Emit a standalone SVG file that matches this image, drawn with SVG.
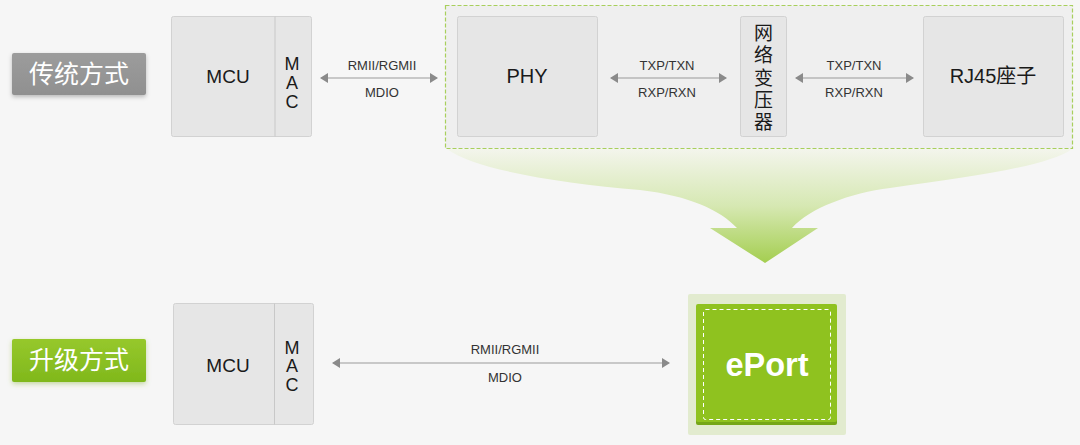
<svg xmlns="http://www.w3.org/2000/svg" width="1080" height="445" viewBox="0 0 1080 445">
<defs>
<style>
.box{fill:#e6e6e6;stroke:#d2d2d2;stroke-width:1}
.t{font-family:"Liberation Sans",Arial,sans-serif;fill:#1a1a1a;text-anchor:middle}
.cjk{font-family:"Liberation Sans","Noto Sans CJK SC",sans-serif;fill:#1a1a1a;text-anchor:middle}
.lbl{font-family:"Liberation Sans",Arial,sans-serif;font-size:13px;fill:#333;text-anchor:middle}
.conn{stroke:#9a9a9a;stroke-width:1.2;fill:none;marker-start:url(#ah);marker-end:url(#ah)}
.tag{font-family:"Noto Sans CJK SC",sans-serif;font-size:25px;fill:#fff;text-anchor:middle}
</style>
<marker id="ah" viewBox="0 0 8 10" refX="7" refY="5" markerWidth="8" markerHeight="10" markerUnits="userSpaceOnUse" orient="auto-start-reverse">
<path d="M0,0 L8,5 L0,10 Z" fill="#8a8a8a"/>
</marker>
<linearGradient id="bigArrow" x1="0" y1="149" x2="0" y2="263" gradientUnits="userSpaceOnUse">
<stop offset="0" stop-color="#f3f5ec"/>
<stop offset="0.5" stop-color="#d6e8b2"/>
<stop offset="1" stop-color="#a4ce50"/>
</linearGradient>
<linearGradient id="greenTag" x1="0" y1="0" x2="0" y2="1">
<stop offset="0" stop-color="#96c82c"/>
<stop offset="1" stop-color="#80b81c"/>
</linearGradient>
<linearGradient id="grayTag" x1="0" y1="0" x2="0" y2="1">
<stop offset="0" stop-color="#9c9c9c"/>
<stop offset="1" stop-color="#909090"/>
</linearGradient>
<filter id="sh" x="-20%" y="-30%" width="140%" height="170%">
<feDropShadow dx="0" dy="2" stdDeviation="2" flood-color="#000" flood-opacity="0.25"/>
</filter>
<filter id="shg" x="-20%" y="-30%" width="140%" height="170%">
<feDropShadow dx="0" dy="2" stdDeviation="2.5" flood-color="#7aa82a" flood-opacity="0.4"/>
</filter>
</defs>
<rect width="1080" height="445" fill="#f6f6f6"/>

<g id="tag-traditional">
<rect x="12" y="53" width="134" height="42" rx="2" fill="url(#grayTag)" filter="url(#sh)"/>
<text class="tag" x="79" y="83">传统方式</text>
</g>
<g id="tag-upgrade">
<rect x="12" y="339" width="134" height="43" rx="2" fill="url(#greenTag)" filter="url(#shg)"/>
<text class="tag" x="79" y="369">升级方式</text>
</g>

<g id="big-arrow">
<path d="M447,149 C475,170 560,183 640,190 C690,196 720,210 737,228 L710,228 L765,263 L818,228 L792,228 C810,208 850,193 890,188 C980,176 1050,165 1072,149 Z" fill="url(#bigArrow)"/>
</g>

<g id="group-phy">
<rect x="445.5" y="5.5" width="627" height="143" fill="#efefef" stroke="#a8cf5c" stroke-width="1.2" stroke-dasharray="4 2"/>
</g>

<g id="mcu-top">
<rect class="box" x="171.5" y="16.5" width="140" height="120" rx="2"/>
<line x1="275" y1="16.5" x2="275" y2="136.5" stroke="#c8c8c8"/>
<text class="t" x="228" y="83" font-size="19">MCU</text>
<text class="t" x="292" y="70" font-size="18">M</text>
<text class="t" x="292" y="89" font-size="18">A</text>
<text class="t" x="292" y="108" font-size="18">C</text>
</g>

<g id="phy">
<rect class="box" x="457.5" y="16.5" width="140" height="120" rx="2"/>
<text class="t" x="527" y="83" font-size="20">PHY</text>
</g>

<g id="transformer">
<rect class="box" x="740.5" y="16.5" width="46" height="120" rx="2"/>
<text class="cjk" x="763.5" y="40" font-size="19">网</text>
<text class="cjk" x="763.5" y="62" font-size="19">络</text>
<text class="cjk" x="763.5" y="85" font-size="19">变</text>
<text class="cjk" x="763.5" y="107" font-size="19">压</text>
<text class="cjk" x="763.5" y="129" font-size="19">器</text>
</g>

<g id="rj45">
<rect class="box" x="923.5" y="16.5" width="140" height="120" rx="2"/>
<text class="cjk" x="993" y="83" font-size="20">RJ45座子</text>
</g>

<g id="mcu-bottom">
<rect class="box" x="173.5" y="303.5" width="140" height="121" rx="2"/>
<line x1="274.5" y1="303.5" x2="274.5" y2="424.5" stroke="#c8c8c8"/>
<text class="t" x="228" y="372" font-size="19">MCU</text>
<text class="t" x="292" y="354" font-size="18">M</text>
<text class="t" x="292" y="372" font-size="18">A</text>
<text class="t" x="292" y="391" font-size="18">C</text>
</g>

<g id="eport">
<rect x="688" y="294" width="158" height="141" rx="2" fill="#e2ebcf"/>
<rect x="696" y="306" width="141" height="119" rx="2" fill="#75a618"/>
<rect x="696" y="304" width="141" height="118" rx="2" fill="#8fc21f"/>
<rect x="703.5" y="309.5" width="127" height="110" rx="2" fill="none" stroke="#ffffff" stroke-width="1" stroke-dasharray="4 3"/>
<text x="767" y="376" font-family="Liberation Sans,Arial,sans-serif" font-weight="bold" font-size="32.5" fill="#ffffff" text-anchor="middle">ePort</text>
</g>

<g id="connectors">
<line class="conn" x1="321" y1="78" x2="437" y2="78"/>
<line class="conn" x1="611" y1="78" x2="726" y2="78"/>
<line class="conn" x1="796" y1="78" x2="913" y2="78"/>
<line class="conn" x1="333" y1="363" x2="669" y2="363"/>
<text class="lbl" x="382" y="70">RMII/RGMII</text>
<text class="lbl" x="382" y="97">MDIO</text>
<text class="lbl" x="667" y="70">TXP/TXN</text>
<text class="lbl" x="667" y="97">RXP/RXN</text>
<text class="lbl" x="854" y="70">TXP/TXN</text>
<text class="lbl" x="854" y="97">RXP/RXN</text>
<text class="lbl" x="505" y="354">RMII/RGMII</text>
<text class="lbl" x="505" y="382">MDIO</text>
</g>
</svg>
